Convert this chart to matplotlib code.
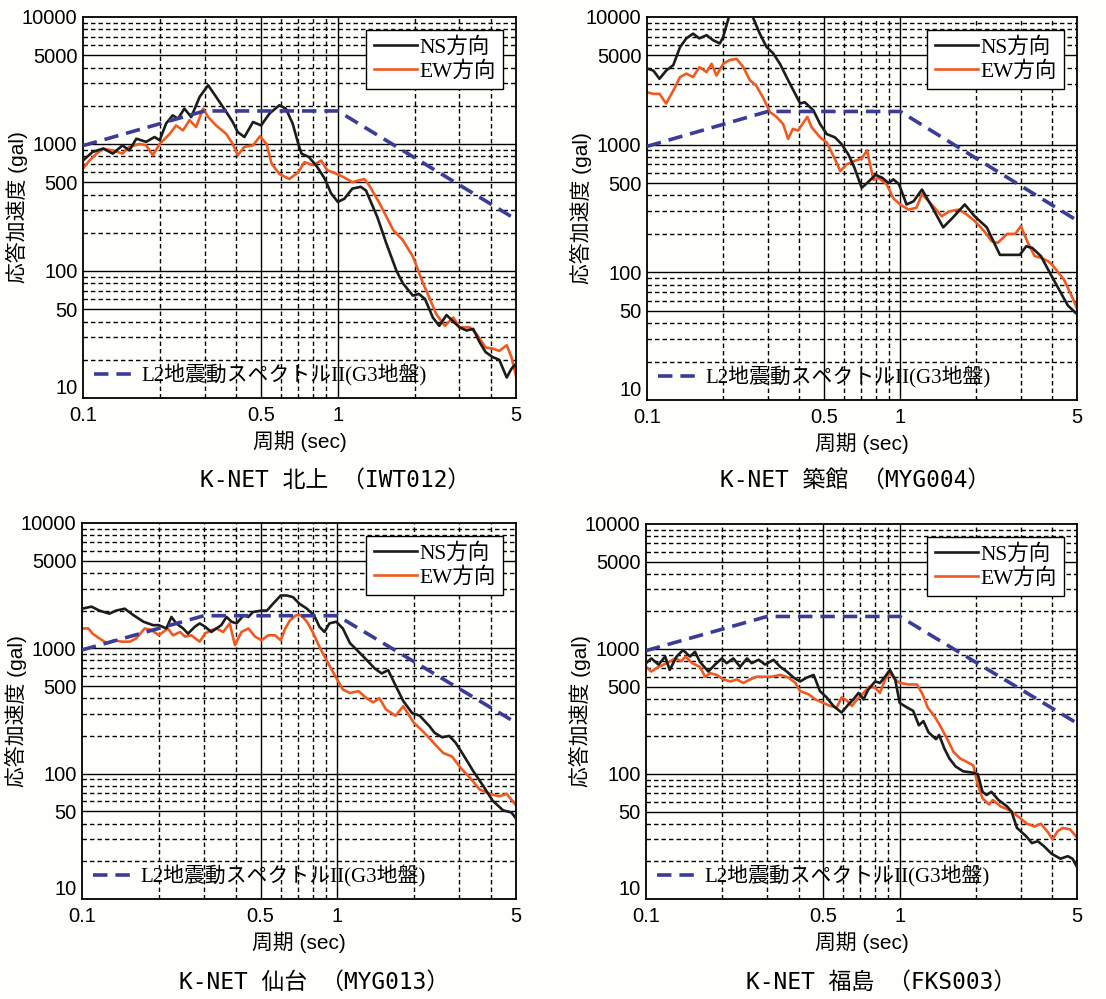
import matplotlib
matplotlib.use("Agg")
import matplotlib.pyplot as plt
from matplotlib.ticker import NullLocator, FixedLocator, FixedFormatter

plt.rcParams['font.family'] = ['Liberation Sans', 'Noto Sans CJK JP']

# --- response spectra (period [s], acceleration [gal]) ---
kitakami_ns_t = [0.1, 0.109, 0.12, 0.131, 0.143, 0.152, 0.162, 0.177, 0.191, 0.2, 0.212, 0.225,
                 0.236, 0.25, 0.266, 0.287, 0.31, 0.333, 0.365, 0.387, 0.405, 0.43, 0.465, 0.5,
                 0.54, 0.59, 0.625, 0.665, 0.7, 0.72, 0.77, 0.83, 0.89, 0.94, 1.0, 1.06, 1.14,
                 1.23, 1.29, 1.43, 1.55, 1.7, 1.8, 1.97, 2.08, 2.2, 2.36, 2.5, 2.67, 2.84, 3.0,
                 3.2, 3.4, 3.6, 3.8, 4.05, 4.3, 4.6, 4.8, 5.0]
kitakami_ns_sa = [740, 865, 920, 840, 975, 890, 1100, 1040, 1135, 1070, 1450, 1680,
                  1580, 1900, 1630, 2350, 2900, 2350, 1790, 1490, 1240, 1135, 1490, 1400,
                  1740, 2020, 1900, 1450, 1000, 840, 790, 660, 530, 410, 350, 370, 445,
                  460, 430, 265, 165, 100, 80, 64, 66, 60, 43, 37, 45, 40, 36,
                  34, 35, 27.5, 23, 21, 20, 14.5, 17, 18.5]
kitakami_ew_t = [0.1, 0.106, 0.113, 0.12, 0.131, 0.143, 0.152, 0.167, 0.177, 0.188, 0.2, 0.219,
                 0.232, 0.247, 0.262, 0.278, 0.296, 0.31, 0.333, 0.365, 0.387, 0.405, 0.43,
                 0.465, 0.495, 0.525, 0.55, 0.59, 0.645, 0.7, 0.74, 0.8, 0.86, 0.91, 0.955,
                 1.05, 1.14, 1.27, 1.33, 1.46, 1.65, 1.8, 1.97, 2.16, 2.3, 2.43, 2.63, 2.84,
                 3.0, 3.3, 3.5, 3.8, 4.05, 4.3, 4.6, 4.8, 5.0]
kitakami_ew_sa = [640, 740, 840, 920, 890, 840, 950, 1000, 975, 815, 1000, 1200,
                  1400, 1280, 1540, 1360, 1900, 1630, 1400, 1200, 1000, 815, 950,
                  975, 1150, 1000, 700, 580, 530, 600, 720, 680, 740, 620, 600,
                  550, 500, 530, 470, 340, 210, 175, 130, 80, 60, 46, 37, 43,
                  36, 36, 32, 25, 24.5, 23.5, 26, 21, 15]

tsukidate_ns_t = [0.1, 0.106, 0.112, 0.119, 0.127, 0.135, 0.143, 0.152, 0.161, 0.172, 0.182,
                  0.194, 0.2, 0.215, 0.23, 0.245, 0.259, 0.279, 0.297, 0.315, 0.335, 0.367,
                  0.403, 0.42, 0.454, 0.483, 0.513, 0.553, 0.587, 0.624, 0.66, 0.705, 0.74,
                  0.8, 0.85, 0.9, 0.94, 0.99, 1.06, 1.13, 1.22, 1.32, 1.48, 1.62, 1.8, 1.97,
                  2.2, 2.37, 2.48, 2.7, 2.97, 3.15, 3.33, 3.6, 3.95, 4.3, 4.6, 5.0]
tsukidate_ns_sa = [3950, 3800, 3280, 3800, 4200, 5800, 6800, 7400, 6800, 7200, 6600,
                   6200, 7000, 11500, 14000, 13000, 10500, 7400, 5800, 5200, 4300, 3000,
                   2100, 2150, 1860, 1450, 1210, 1140, 1010, 840, 660, 460, 500,
                   580, 550, 500, 535, 490, 340, 360, 445, 340, 225, 270, 340, 275,
                   225, 165, 137, 137, 137, 160, 155, 134, 95, 70, 55, 47]
tsukidate_ew_t = [0.1, 0.106, 0.112, 0.119, 0.127, 0.135, 0.143, 0.152, 0.161, 0.172, 0.18,
                  0.188, 0.2, 0.212, 0.226, 0.24, 0.255, 0.27, 0.287, 0.306, 0.325, 0.345,
                  0.361, 0.377, 0.395, 0.43, 0.447, 0.483, 0.513, 0.553, 0.58, 0.615, 0.655,
                  0.705, 0.74, 0.785, 0.82, 0.885, 0.94, 1.0, 1.08, 1.16, 1.22, 1.28, 1.35,
                  1.46, 1.56, 1.7, 1.83, 1.98, 2.15, 2.3, 2.43, 2.65, 2.85, 3.0, 3.2, 3.4,
                  3.6, 3.85, 4.0, 4.45, 4.8, 5.0]
tsukidate_ew_sa = [2570, 2500, 2500, 2100, 2650, 3380, 3600, 3380, 4050, 3700, 4300,
                   3480, 4300, 4600, 4700, 4050, 3200, 2900, 2350, 1800, 1650, 1450,
                   1110, 1330, 1290, 1650, 1370, 1140, 1040, 770, 620, 700, 740,
                   780, 900, 530, 550, 490, 380, 340, 310, 320, 410, 370, 330,
                   275, 300, 310, 285, 250, 210, 175, 170, 200, 200, 230, 170, 134,
                   130, 122, 114, 87, 63, 52]

sendai_ns_t = [0.1, 0.109, 0.117, 0.128, 0.136, 0.147, 0.159, 0.174, 0.19, 0.2, 0.214, 0.224,
               0.234, 0.249, 0.26, 0.277, 0.289, 0.303, 0.321, 0.336, 0.351, 0.368, 0.385,
               0.403, 0.43, 0.448, 0.467, 0.505, 0.53, 0.56, 0.6, 0.634, 0.67, 0.71, 0.76,
               0.81, 0.85, 0.89, 0.93, 0.99, 1.05, 1.12, 1.21, 1.3, 1.4, 1.49, 1.58, 1.71,
               1.81, 1.96, 2.1, 2.29, 2.4, 2.57, 2.74, 2.9, 3.12, 3.4, 3.72, 4.05, 4.45,
               4.8, 5.0]
sendai_ns_sa = [2070, 2150, 2000, 1890, 2000, 2070, 1840, 1630, 1530, 1530, 1440, 1780,
                1580, 1440, 1310, 1490, 1580, 1490, 1350, 1440, 1530, 1780, 1630,
                1580, 1840, 1780, 1950, 2000, 2000, 2270, 2640, 2640, 2560, 2270, 2070,
                1840, 1490, 1350, 1580, 1630, 1440, 1100, 940, 810, 690, 630, 670, 480,
                380, 305, 290, 240, 212, 195, 200, 177, 140, 105, 80, 61, 51,
                49, 44]
sendai_ew_t = [0.1, 0.106, 0.11, 0.117, 0.125, 0.134, 0.143, 0.154, 0.163, 0.176, 0.187, 0.2,
               0.208, 0.217, 0.227, 0.242, 0.253, 0.268, 0.289, 0.303, 0.321, 0.336, 0.357,
               0.379, 0.397, 0.421, 0.448, 0.476, 0.505, 0.536, 0.57, 0.6, 0.625, 0.652,
               0.69, 0.72, 0.76, 0.8, 0.85, 0.92, 0.99, 1.05, 1.12, 1.21, 1.3, 1.38, 1.46,
               1.55, 1.69, 1.81, 1.99, 2.15, 2.33, 2.45, 2.6, 2.81, 3.05, 3.3, 3.6, 3.95,
               4.3, 4.6, 5.0]
sendai_ew_sa = [1440, 1440, 1310, 1200, 1100, 1160, 1130, 1130, 1200, 1440, 1400, 1270,
                1350, 1440, 1270, 1350, 1240, 1270, 1130, 1310, 1400, 1440, 1350,
                1580, 1060, 1350, 1440, 1240, 1160, 1270, 1270, 1160, 1440, 1670,
                1840, 1840, 1630, 1350, 1030, 760, 580, 470, 440, 455, 400, 370, 400,
                325, 290, 345, 255, 220, 185, 165, 146, 137, 110, 93, 75, 69,
                66, 69, 56]

fukushima_ns_t = [0.1, 0.105, 0.112, 0.119, 0.124, 0.132, 0.14, 0.149, 0.156, 0.163, 0.176,
                  0.187, 0.199, 0.208, 0.221, 0.235, 0.25, 0.261, 0.278, 0.295, 0.318, 0.338,
                  0.359, 0.382, 0.405, 0.43, 0.458, 0.485, 0.515, 0.548, 0.59, 0.628, 0.657,
                  0.688, 0.72, 0.75, 0.8, 0.836, 0.875, 0.915, 0.96, 1.0, 1.07, 1.13, 1.19,
                  1.24, 1.3, 1.39, 1.43, 1.5, 1.57, 1.66, 1.78, 1.91, 2.03, 2.12, 2.2, 2.3,
                  2.45, 2.65, 2.76, 2.9, 3.14, 3.32, 3.5, 3.7, 3.97, 4.3, 4.6, 4.8, 5.0]
fukushima_ns_sa = [770, 840, 750, 870, 680, 870, 980, 870, 950, 790, 660,
                   750, 840, 770, 840, 720, 840, 770, 820, 750, 820, 720,
                   660, 590, 550, 590, 620, 460, 410, 350, 310, 360, 395,
                   445, 395, 470, 550, 535, 600, 680, 570, 370, 340, 320, 245,
                   265, 215, 190, 205, 160, 133, 115, 105, 103, 100, 72, 68, 72,
                   62, 55, 50, 37, 32, 28, 29, 26.5, 23, 21, 22, 21, 18]
fukushima_ew_t = [0.1, 0.105, 0.112, 0.121, 0.13, 0.138, 0.143, 0.152, 0.163, 0.171, 0.179,
                  0.19, 0.202, 0.215, 0.228, 0.242, 0.257, 0.273, 0.29, 0.313, 0.338, 0.365,
                  0.388, 0.405, 0.437, 0.465, 0.5, 0.532, 0.565, 0.59, 0.62, 0.648, 0.68,
                  0.72, 0.76, 0.8, 0.836, 0.875, 0.915, 0.96, 1.0, 1.09, 1.17, 1.23, 1.29,
                  1.37, 1.44, 1.54, 1.63, 1.73, 1.84, 1.95, 2.03, 2.12, 2.25, 2.33, 2.5,
                  2.67, 2.84, 3.0, 3.17, 3.4, 3.6, 3.85, 4.0, 4.2, 4.4, 4.7, 5.0]
fukushima_ew_sa = [720, 660, 720, 770, 840, 800, 870, 770, 720, 600, 640,
                   620, 570, 550, 570, 535, 570, 600, 600, 600, 620, 590,
                   535, 460, 435, 395, 370, 350, 340, 410, 385, 350, 395,
                   445, 500, 490, 445, 570, 640, 570, 535, 520, 520, 435, 340,
                   290, 245, 190, 150, 133, 125, 117, 82, 64, 57, 62, 55,
                   52, 48, 44, 40, 38, 40, 34, 30, 35, 37, 36, 31]

# L2 design spectrum II (G3 ground), corner points
l2_t = [0.1, 0.3, 1.0, 5.0]
l2_sa = [970, 1820, 1820, 255]

stations = ['K-NET 北上 （IWT012）', 'K-NET 築館 （MYG004）',
            'K-NET 仙台 （MYG013）', 'K-NET 福島 （FKS003）']
ns_data = [(kitakami_ns_t, kitakami_ns_sa), (tsukidate_ns_t, tsukidate_ns_sa),
           (sendai_ns_t, sendai_ns_sa), (fukushima_ns_t, fukushima_ns_sa)]
ew_data = [(kitakami_ew_t, kitakami_ew_sa), (tsukidate_ew_t, tsukidate_ew_sa),
           (sendai_ew_t, sendai_ew_sa), (fukushima_ew_t, fukushima_ew_sa)]

y_ticks = [10, 50, 100, 500, 1000, 5000, 10000]
x_ticks = [0.1, 0.5, 1, 5]
x_tick_labels = ['0.1', '0.5', '1', '5']
y_grid_solid = [50, 100, 500, 1000, 5000]
y_grid_dash = [20, 30, 40, 60, 70, 80, 90, 200, 300, 400, 600, 700, 800, 900,
               2000, 3000, 4000, 6000, 7000, 8000, 9000]
x_grid_solid = [0.5, 1]
x_grid_dash = [0.2, 0.3, 0.4, 0.6, 0.7, 0.8, 0.9, 2, 3, 4]

C_NS = '#1c1c1c'
C_EW = '#f05a22'
C_L2 = '#3b3c98'
legend_font = {'family': ['Liberation Serif', 'Noto Sans CJK JP'], 'size': 15.5}
l2_font = {'family': ['Liberation Serif', 'Noto Sans CJK JP'], 'size': 15}
title_font = ['DejaVu Sans Mono', 'Noto Sans CJK JP']

fig = plt.figure(figsize=(11.06, 9.99), dpi=100)
fig.patch.set_facecolor('#fefefb')

rects = [[0.075, 0.6016, 0.3915, 0.3814],
         [0.585, 0.5996, 0.3888, 0.3834],
         [0.0741, 0.1001, 0.3924, 0.3764],
         [0.5841, 0.1001, 0.3897, 0.3754]]
title_pos = [(0.303, 0.519), (0.773, 0.519), (0.284, 0.017), (0.797, 0.017)]

dash = (0, (3.2, 2.2))
for i in range(4):
    ax = fig.add_axes(rects[i])
    ax.set_facecolor('#fefefb')
    ax.set_xscale('log')
    ax.set_yscale('log')
    ax.set_xlim(0.1, 5)
    ax.set_ylim(10, 10000)

    for y in y_grid_solid:
        ax.axhline(y, color='black', lw=1.0, zorder=1)
    for y in y_grid_dash:
        ax.axhline(y, color='black', lw=1.0, ls=dash, zorder=1)
    for x in x_grid_solid:
        ax.axvline(x, color='black', lw=1.0, zorder=1)
    for x in x_grid_dash:
        ax.axvline(x, color='black', lw=1.0, ls=dash, zorder=1)

    ns_line, = ax.plot(*ns_data[i], color=C_NS, lw=1.9, label='NS方向', zorder=3)
    ew_line, = ax.plot(*ew_data[i], color=C_EW, lw=1.9, label='EW方向', zorder=2)
    l2_line, = ax.plot(l2_t, l2_sa, color=C_L2, lw=2.6, ls=(0, (4, 2.2)), zorder=4)

    ax.xaxis.set_major_locator(FixedLocator(x_ticks))
    ax.xaxis.set_major_formatter(FixedFormatter(x_tick_labels))
    ax.xaxis.set_minor_locator(NullLocator())
    ax.yaxis.set_major_locator(FixedLocator(y_ticks))
    ax.yaxis.set_major_formatter(FixedFormatter([str(v) for v in y_ticks]))
    ax.yaxis.set_minor_locator(NullLocator())
    ax.tick_params(length=0, labelsize=14.5)
    ax.tick_params(axis='x', pad=6)
    ax.tick_params(axis='y', pad=4)
    # keep the bottom y label clear of the "0.1" x label
    ax.yaxis.get_major_ticks()[0].label1.set_verticalalignment('bottom')
    for s in ax.spines.values():
        s.set_linewidth(1.3)

    ax.set_xlabel('周期 (sec)', fontsize=15, labelpad=4)
    ax.set_ylabel('応答加速度 (gal)', fontsize=15)
    ax.yaxis.set_label_coords(-0.127, 0.5)

    leg = ax.legend(handles=[ns_line, ew_line], loc='upper right', prop=legend_font,
                    fancybox=False, edgecolor='black', framealpha=1, borderaxespad=0.6,
                    handlelength=2.0, handletextpad=0.1, borderpad=0.35, labelspacing=0.15)
    leg.get_frame().set_linewidth(1.0)
    ax.add_artist(leg)
    ax.legend(handles=[l2_line], labels=['L2地震動スペクトルII(G3地盤)'], loc='lower left',
              prop=l2_font, frameon=False, handlelength=2.0, handletextpad=0.25,
              borderaxespad=0.15)

    fig.text(title_pos[i][0], title_pos[i][1], stations[i], ha='center', va='center',
             fontsize=16.5, family=title_font)

fig.savefig('out.png', dpi=100, facecolor=fig.get_facecolor())
